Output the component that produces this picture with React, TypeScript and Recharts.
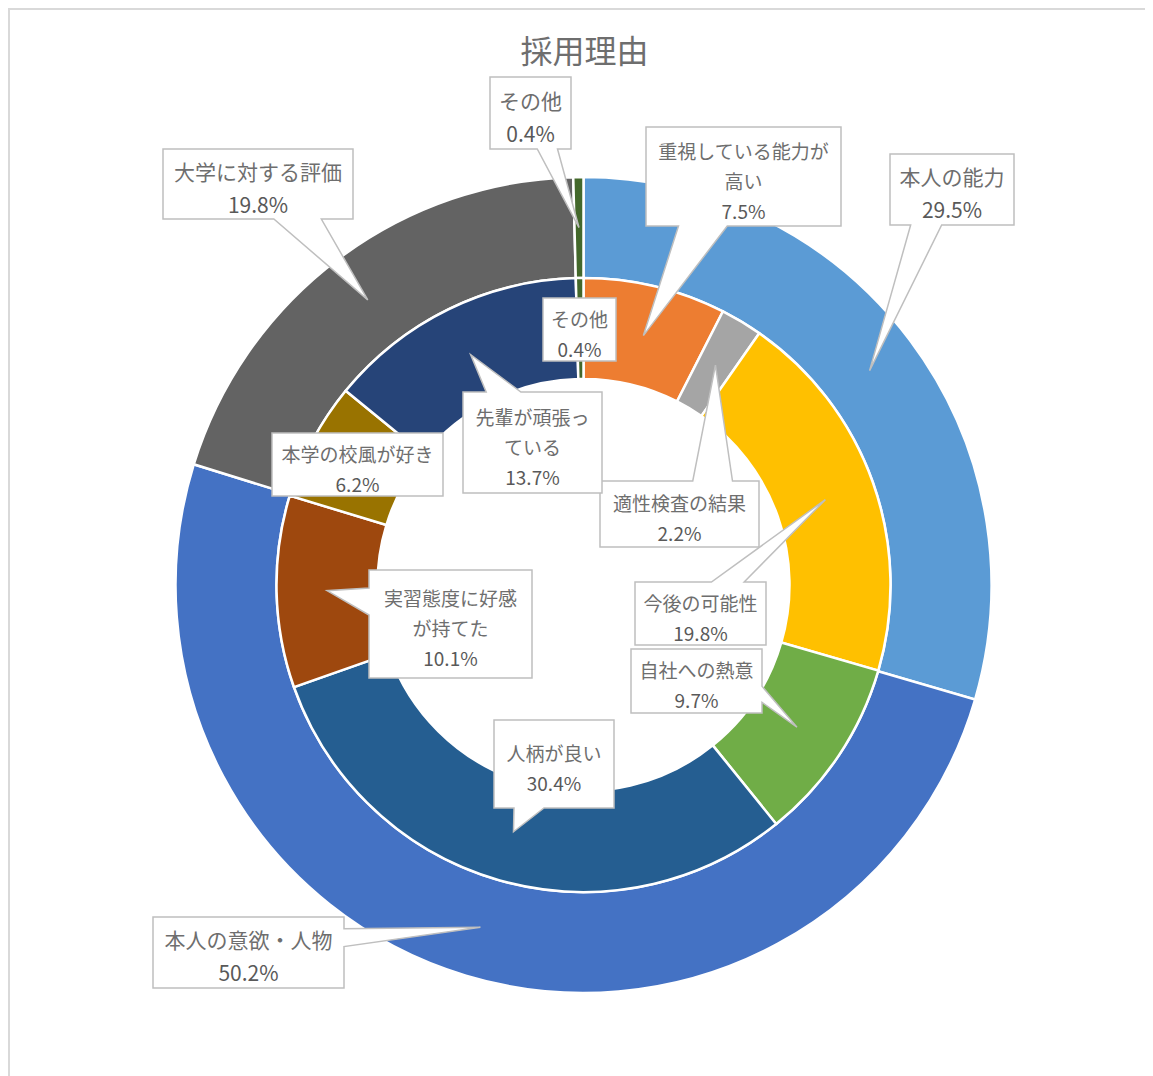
import { PieChart, Pie, Cell } from 'recharts';

const outerNames = ['本人の能力', '本人の意欲・人物', '大学に対する評価', 'その他'];
const outerValues = [29.5, 50.2, 19.8, 0.4];
const outerColors = ['#5B9BD5', '#4472C4', '#636363', '#43682B'];

const innerNames = [
  '重視している能力が\n高い',
  '適性検査の結果',
  '今後の可能性',
  '自社への熱意',
  '人柄が良い',
  '実習態度に好感\nが持てた',
  '本学の校風が好き',
  '先輩が頑張っ\nている',
  'その他',
];
const innerValues = [7.5, 2.2, 19.8, 9.7, 30.4, 10.1, 6.2, 13.7, 0.4];
const innerColors = [
  '#ED7D31', '#A5A5A5', '#FFC000', '#70AD47', '#255E91',
  '#9E480E', '#997300', '#264478', '#43682B',
];

// callout box placement [x, y, w, h] in chart pixels
const outerBoxes = [
  [880, 144, 124, 71],
  [143, 907, 191, 71],
  [153, 139, 190, 70],
  [480, 67, 81, 72],
];
const innerBoxes = [
  [636, 117, 195, 99],
  [590, 471, 159, 66],
  [625, 572, 131, 63],
  [621, 639, 131, 64],
  [484, 710, 120, 88],
  [359, 560, 163, 108],
  [262, 423, 171, 63],
  [453, 382, 139, 101],
  [533, 288, 73, 63],
];

const W = 1143;
const H = 1066;
const CX = 573.5;
const CY = 575;
const R0 = 206;
const R1 = 307;
const R2 = 408;
const RAD = Math.PI / 180;
const NAME_COLOR = '#6E6E6E';
const PCT_COLOR = '#595959';
const FONT = '"Noto Sans CJK JP", "Noto Sans", sans-serif';

if (typeof document !== 'undefined') document.body.style.overflow = 'hidden';

const outerData = outerNames.map((name, i) => ({ name, value: outerValues[i] }));
const innerData = innerNames.map((name, i) => ({ name, value: innerValues[i] }));

// Office "wedgeRectCallout" outline
function calloutPath(x: number, y: number, w: number, h: number, tx: number, ty: number) {
  const inside = tx >= x && tx <= x + w && ty >= y && ty <= y + h;
  if (inside) return `M${x},${y}H${x + w}V${y + h}H${x}Z`;
  const dx = tx - (x + w / 2);
  const dy = ty - (y + h / 2);
  const dz = Math.abs(dy) - Math.abs((dx * h) / w);
  const x1 = x + (w * (dx > 0 ? 7 : 2)) / 12;
  const x2 = x + (w * (dx > 0 ? 10 : 5)) / 12;
  const y1 = y + (h * (dy > 0 ? 7 : 2)) / 12;
  const y2 = y + (h * (dy > 0 ? 10 : 5)) / 12;
  let d = `M${x},${y}`;
  if (dz > 0 && dy < 0) d += `L${x1},${y}L${tx},${ty}L${x2},${y}`;
  d += `L${x + w},${y}`;
  if (dz <= 0 && dx > 0) d += `L${x + w},${y1}L${tx},${ty}L${x + w},${y2}`;
  d += `L${x + w},${y + h}`;
  if (dz > 0 && dy > 0) d += `L${x2},${y + h}L${tx},${ty}L${x1},${y + h}`;
  d += `L${x},${y + h}`;
  if (dz <= 0 && dx < 0) d += `L${x},${y2}L${tx},${ty}L${x},${y1}`;
  return d + 'Z';
}

function makeLabel(names: string[], values: number[], boxes: number[][], fontSize: number, lineH: number) {
  return (props: any) => {
    const { cx, cy, midAngle, innerRadius, outerRadius, index } = props;
    const r = (innerRadius + outerRadius) / 2;
    const tx = cx + r * Math.cos(-midAngle * RAD);
    const ty = cy + r * Math.sin(-midAngle * RAD);
    const [x, y, w, h] = boxes[index];
    const nameLines = names[index].split('\n');
    const lines = [...nameLines, `${values[index].toFixed(1)}%`];
    const top = y + h / 2 + 3 - ((lines.length - 1) * lineH) / 2;
    return (
      <g key={`lbl-${index}`}>
        <path
          d={calloutPath(x, y, w, h, tx, ty)}
          fill="#fff"
          stroke="#BFBFBF"
          strokeWidth={1.5}
        />
        <text
          x={x + w / 2}
          textAnchor="middle"
          dominantBaseline="central"
          fontFamily={FONT}
          fontSize={fontSize}
        >
          {lines.map((ln, i) => (
            <tspan
              key={i}
              x={x + w / 2}
              y={top + i * lineH}
              fill={i < nameLines.length ? NAME_COLOR : PCT_COLOR}
            >
              {ln}
            </tspan>
          ))}
        </text>
      </g>
    );
  };
}

export default function App() {
  return (
    <div
      style={{
        position: 'relative',
        width: 1145,
        height: 1068,
        borderLeft: '2px solid #D9D9D9',
        borderTop: '2px solid #D9D9D9',
        boxSizing: 'border-box',
        background: '#fff',
      }}
    >
      <div
        style={{
          position: 'absolute',
          left: CX + 1 - 150,
          top: 23,
          width: 300,
          textAlign: 'center',
          fontFamily: FONT,
          fontSize: 32,
          lineHeight: '32px',
          color: NAME_COLOR,
          zIndex: 1,
        }}
      >
        採用理由
      </div>
      <PieChart width={W} height={H} margin={{ top: 0, right: 0, bottom: 0, left: 0 }}>
        <Pie
          data={outerData}
          dataKey="value"
          nameKey="name"
          cx={CX}
          cy={CY}
          innerRadius={R1}
          outerRadius={R2}
          startAngle={90}
          endAngle={-270}
          stroke="#fff"
          strokeWidth={2.5}
          isAnimationActive={false}
          labelLine={false}
          label={makeLabel(outerNames, outerValues, outerBoxes, 21, 33)}
        >
          {outerData.map((_, i) => (
            <Cell key={`o-${i}`} fill={outerColors[i]} />
          ))}
        </Pie>
        <Pie
          data={innerData}
          dataKey="value"
          nameKey="name"
          cx={CX}
          cy={CY}
          innerRadius={R0}
          outerRadius={R1}
          startAngle={90}
          endAngle={-270}
          stroke="#fff"
          strokeWidth={2.5}
          isAnimationActive={false}
          labelLine={false}
          label={makeLabel(innerNames, innerValues, innerBoxes, 19, 30)}
        >
          {innerData.map((_, i) => (
            <Cell key={`i-${i}`} fill={innerColors[i]} />
          ))}
        </Pie>
      </PieChart>
    </div>
  );
}
